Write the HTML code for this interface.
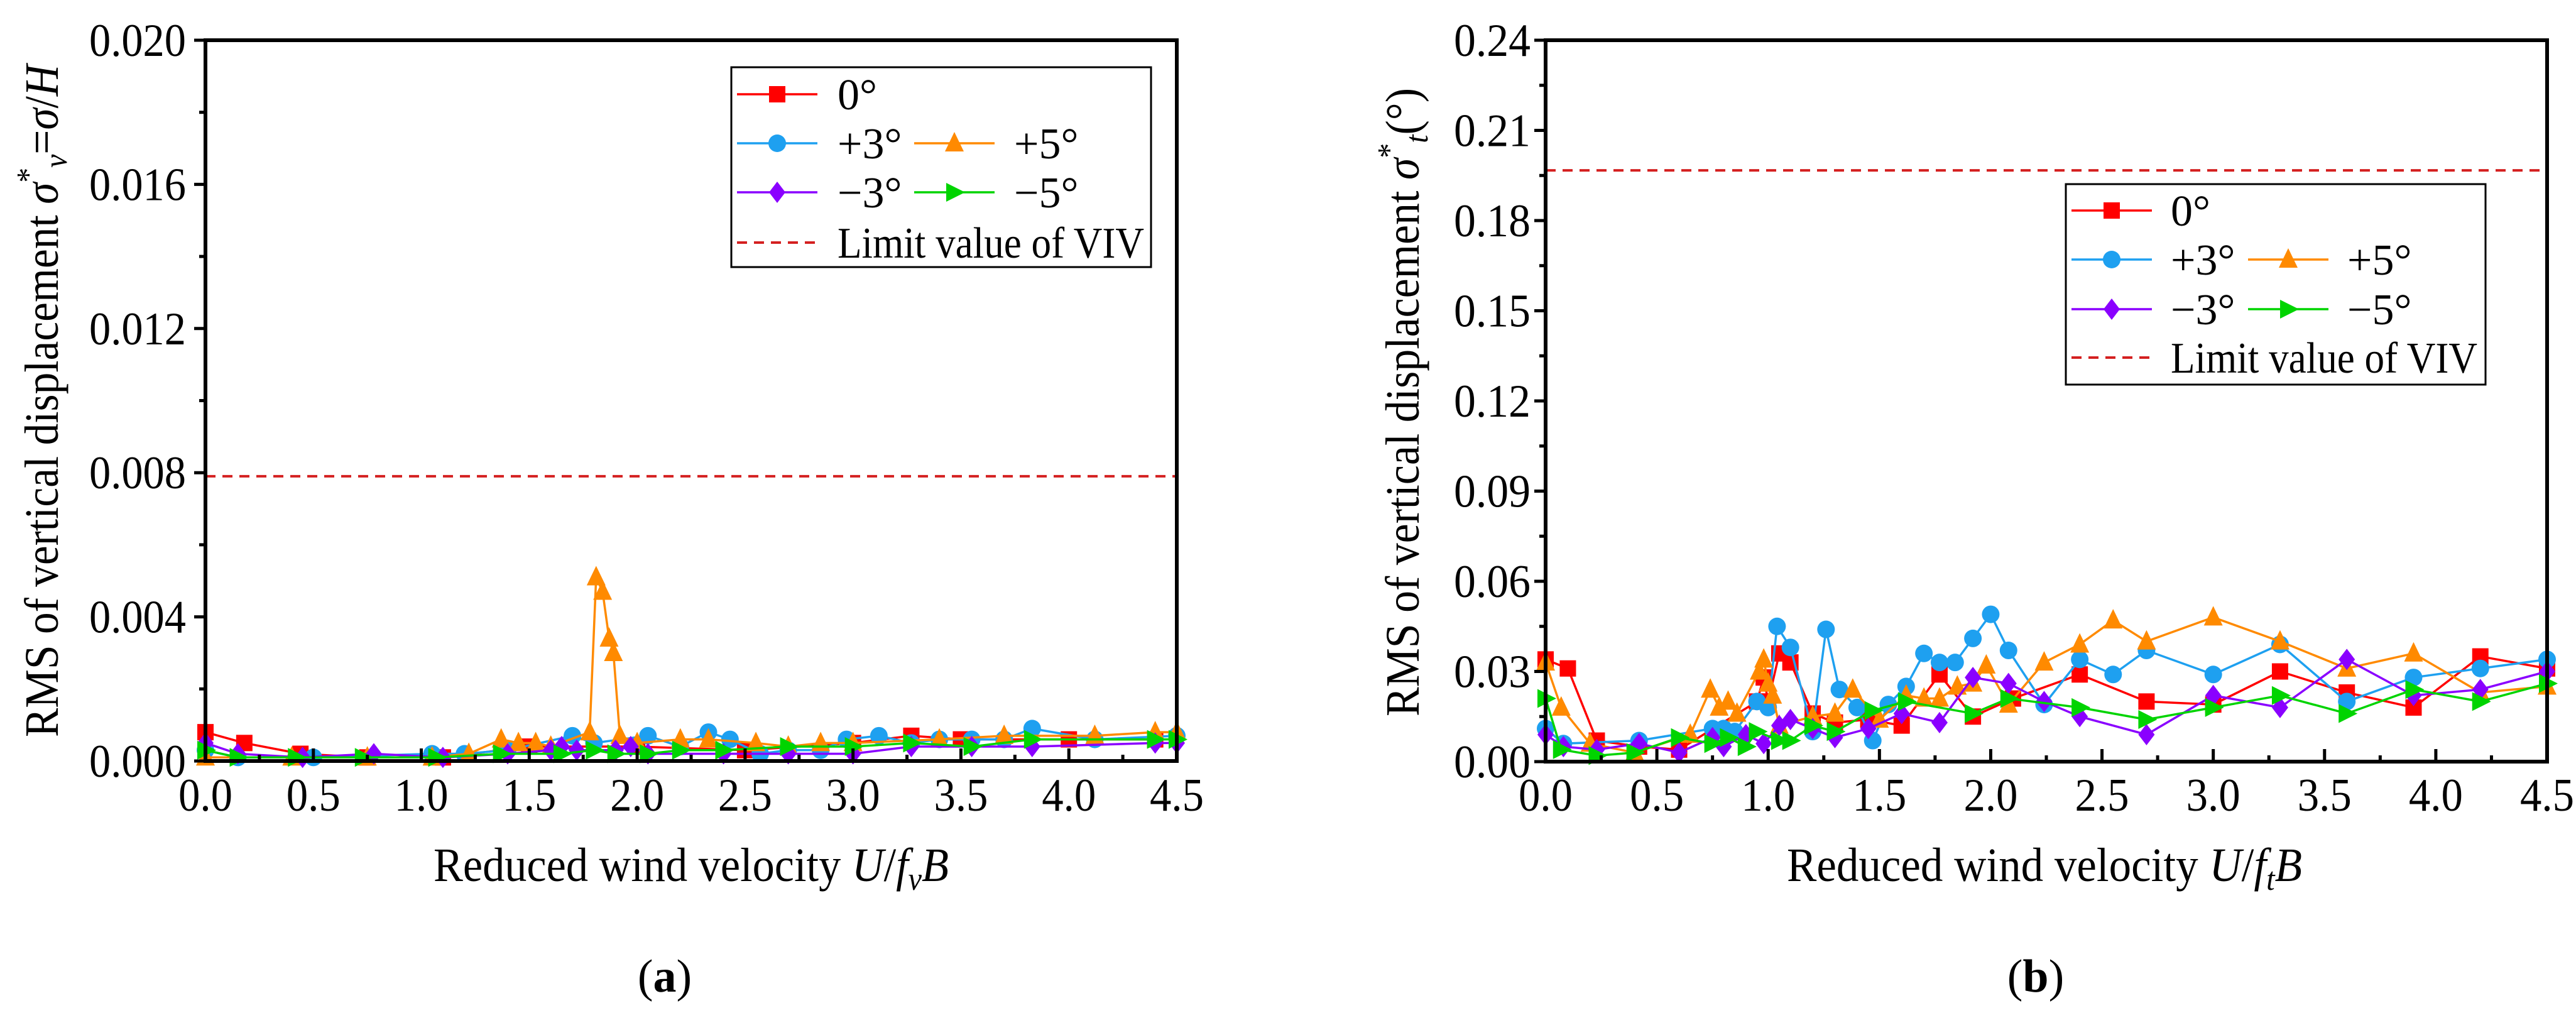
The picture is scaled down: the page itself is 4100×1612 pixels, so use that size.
<!DOCTYPE html>
<html><head><meta charset="utf-8"><title>VIV RMS charts</title>
<style>
html,body{margin:0;padding:0;background:#fff;}
svg{display:block;font-family:"Liberation Serif",serif;}
</style></head>
<body>
<svg id="fig" width="4100" height="1612" viewBox="0 0 4100 1612" xmlns="http://www.w3.org/2000/svg"></svg>
<script>
// ---- Data: panel (a) vertical ----
const a_red_x=[0,0.18,0.44,0.75,1.1,1.5,2.0,2.5,3.0,3.27,3.5,4.0,4.4];
const a_red_y=[0.0008,0.0005,0.0002,0.0001,0.0001,0.0004,0.0004,0.0003,0.0005,0.0007,0.0006,0.0006,0.0006];
const a_blue_x=[0,0.15,0.5,1.05,1.2,1.4,1.7,1.8,2.05,2.2,2.33,2.43,2.57,2.7,2.85,2.97,3.12,3.27,3.4,3.55,3.7,3.83,4.12,4.5];
const a_blue_y=[0.0003,0.0001,0.0001,0.0002,0.0002,0.0003,0.0007,0.0005,0.0007,0.0004,0.0008,0.0006,0.0002,0.0003,0.0003,0.0006,0.0007,0.0005,0.0006,0.0006,0.0006,0.0009,0.0006,0.0007];
const a_orange_x=[0,0.4,0.75,1.05,1.22,1.37,1.45,1.53,1.6,1.78,1.81,1.84,1.87,1.89,1.92,2.0,2.2,2.33,2.55,2.7,2.85,3.0,3.4,3.7,4.12,4.4,4.5];
const a_orange_y=[0.0001,0.0001,0.0001,0.0001,0.0002,0.0006,0.0005,0.0005,0.0004,0.0008,0.0051,0.0047,0.0034,0.003,0.0007,0.0005,0.0006,0.0006,0.0005,0.0004,0.0005,0.0005,0.0006,0.0007,0.0007,0.0008,0.0008];
const a_purple_x=[0,0.15,0.45,0.78,1.1,1.4,1.6,1.65,1.72,1.9,1.97,2.05,2.4,2.7,3.0,3.27,3.55,3.83,4.4,4.5];
const a_purple_y=[0.0005,0.0002,0.0001,0.0002,0.0001,0.0002,0.0003,0.0004,0.0003,0.0003,0.0004,0.0002,0.0002,0.0002,0.0002,0.0004,0.0004,0.0004,0.0005,0.0005];
const a_green_x=[0,0.15,0.42,0.73,1.07,1.37,1.65,1.8,1.9,2.05,2.2,2.4,2.7,3.0,3.27,3.55,3.83,4.4,4.5];
const a_green_y=[0.0003,0.0001,0.0001,0.0001,0.0001,0.0002,0.0002,0.0003,0.0002,0.0002,0.0003,0.0003,0.0004,0.0004,0.0005,0.0004,0.0006,0.0006,0.0006];
const a_limit=0.0079;
const a_yticks=["0.000","0.004","0.008","0.012","0.016","0.020"];
// ---- Data: panel (b) torsional ----
const b_red_x=[0,0.1,0.23,0.42,0.6,0.95,0.98,1.0,1.05,1.1,1.2,1.3,1.45,1.6,1.77,1.92,2.1,2.4,2.7,3.0,3.3,3.6,3.9,4.2,4.5];
const b_red_y=[0.034,0.031,0.007,0.005,0.004,0.02,0.028,0.02,0.036,0.033,0.016,0.013,0.014,0.012,0.029,0.015,0.021,0.029,0.02,0.019,0.03,0.023,0.018,0.035,0.031];
const b_blue_x=[0,0.08,0.42,0.75,0.8,0.85,0.95,1.0,1.04,1.1,1.2,1.26,1.32,1.4,1.47,1.54,1.62,1.7,1.77,1.84,1.92,2.0,2.08,2.24,2.4,2.55,2.7,3.0,3.3,3.6,3.9,4.2,4.5];
const b_blue_y=[0.011,0.006,0.007,0.011,0.011,0.01,0.02,0.018,0.045,0.038,0.01,0.044,0.024,0.018,0.007,0.019,0.025,0.036,0.033,0.033,0.041,0.049,0.037,0.019,0.034,0.029,0.037,0.029,0.039,0.02,0.028,0.031,0.034];
const b_orange_x=[0,0.07,0.2,0.4,0.65,0.74,0.78,0.82,0.86,0.96,0.98,1.0,1.02,1.05,1.2,1.3,1.38,1.5,1.62,1.7,1.77,1.85,1.92,1.98,2.08,2.24,2.4,2.55,2.7,3.0,3.3,3.6,3.9,4.2,4.5];
const b_orange_y=[0.033,0.018,0.006,0.003,0.009,0.024,0.018,0.02,0.016,0.03,0.034,0.026,0.022,0.012,0.015,0.016,0.024,0.014,0.022,0.021,0.021,0.025,0.026,0.032,0.019,0.033,0.039,0.047,0.04,0.048,0.04,0.031,0.036,0.023,0.025];
const b_purple_x=[0,0.08,0.23,0.42,0.6,0.75,0.8,0.9,0.98,1.05,1.1,1.2,1.3,1.45,1.6,1.77,1.92,2.08,2.24,2.4,2.7,3.0,3.3,3.6,3.9,4.2,4.5];
const b_purple_y=[0.009,0.005,0.004,0.006,0.003,0.008,0.005,0.009,0.006,0.012,0.014,0.011,0.008,0.011,0.016,0.013,0.028,0.026,0.02,0.015,0.009,0.022,0.018,0.034,0.022,0.024,0.03];
const b_green_x=[0,0.07,0.23,0.4,0.6,0.75,0.82,0.9,0.95,1.05,1.1,1.2,1.3,1.47,1.62,1.92,2.08,2.4,2.7,3.0,3.3,3.6,3.9,4.2,4.5];
const b_green_y=[0.021,0.004,0.002,0.003,0.008,0.006,0.008,0.005,0.01,0.007,0.007,0.012,0.01,0.017,0.02,0.016,0.021,0.018,0.014,0.018,0.022,0.016,0.024,0.02,0.026];
const b_limit=0.1967;
const b_yticks=["0.00","0.03","0.06","0.09","0.12","0.15","0.18","0.21","0.24"];
const xticks=["0.0","0.5","1.0","1.5","2.0","2.5","3.0","3.5","4.0","4.5"];

const NS="http://www.w3.org/2000/svg";
const svg=document.getElementById('fig');
function mk(tag,attrs,parent){const e=document.createElementNS(NS,tag);for(const k in attrs)e.setAttribute(k,attrs[k]);(parent||svg).appendChild(e);return e;}
const COL={red:"#ff0000",blue:"#1ea0f0",orange:"#ff8a00",purple:"#8a00ff",green:"#00d400"};

function marker(g,type,x,y,c){
  const s=15;let e;
  if(type==='sq') e=mk('rect',{x:x-s+2,y:y-s+2,width:2*s-4,height:2*s-4,fill:c},g);
  else if(type==='ci') e=mk('circle',{cx:x,cy:y,r:s-1,fill:c},g);
  else if(type==='tri') e=mk('polygon',{points:`${x},${y-s-3} ${x+s},${y+s-2} ${x-s},${y+s-2}`,fill:c},g);
  else if(type==='dia') e=mk('polygon',{points:`${x},${y-s-2} ${x+s-2},${y} ${x},${y+s+2} ${x-s+2},${y}`,fill:c},g);
  else e=mk('polygon',{points:`${x+s+2},${y} ${x-s+2},${y-s} ${x-s+2},${y+s}`,fill:c},g);
  
  
}

function panel(p){
  const g=mk('g',{});
  
  
  const X=v=>p.L+(v/4.5)*(p.R-p.L);
  const Y=v=>p.B-(v/p.ymax)*(p.B-p.T);
  // limit line
  const lim=mk('line',{x1:p.L,x2:p.R,y1:Y(p.limit),y2:Y(p.limit),stroke:"#d42020","stroke-width":4,"stroke-dasharray":"16,11"},g);
  
  
  // series
  p.series.forEach(s=>{
    const sg=mk('g',{},g);
    
    
    mk('polyline',{points:s.x.map((v,i)=>X(v)+','+Y(s.y[i])).join(' '),fill:'none',stroke:s.c,'stroke-width':3.5},sg);
    s.x.forEach((v,i)=>marker(sg,s.m,X(v),Y(s.y[i]),s.c));
  });
  // axes box
  const box=mk('rect',{x:p.L,y:p.T,width:p.R-p.L,height:p.B-p.T,fill:'none',stroke:'#000','stroke-width':6},g);
  
  
  // x ticks
  for(let i=0;i<=18;i++){const v=i*0.25,x=X(v),len=i%2?10:20;
    mk('line',{x1:x,x2:x,y1:p.B,y2:p.B-len,stroke:'#000','stroke-width':5},g);}
  xticks.forEach(t=>{const e=mk('text',{x:X(+t),y:1290,'text-anchor':'middle','font-size':74,textLength:86,lengthAdjust:'spacingAndGlyphs'},g);e.textContent=t;
    
    });
  // y ticks
  const n=p.yticks.length-1;
  for(let i=0;i<=2*n;i++){const v=i*p.ymax/(2*n),y=Y(v),len=i%2?10:18;
    mk('line',{x1:p.L,x2:p.L-len,y1:y,y2:y,stroke:'#000','stroke-width':5},g);}
  p.yticks.forEach(t=>{const e=mk('text',{x:p.ylx,y:Y(+t)+25,'text-anchor':'end','font-size':74,textLength:p.ylw,lengthAdjust:'spacingAndGlyphs'},g);e.textContent=t;
    
    });
  // x title
  const xt=mk('text',{x:p.xtx,y:1402,'text-anchor':'middle','font-size':76,textLength:p.xtw,lengthAdjust:'spacingAndGlyphs'},g);
  xt.innerHTML='Reduced wind velocity <tspan font-style="italic">U</tspan>/<tspan font-style="italic">f</tspan><tspan font-style="italic" font-size="52" dy="14">'+p.sub+'</tspan><tspan font-style="italic" dy="-14">B</tspan>';
  
  
  // y title
  const yt=mk('text',{transform:`translate(${p.ytx},${p.yty}) rotate(-90)`,'text-anchor':'middle','font-size':76,textLength:p.ytw,lengthAdjust:'spacingAndGlyphs'},g);
  yt.innerHTML=p.ytitle;
  
  
  // panel label
  const pl=mk('text',{x:p.lab,y:1578,'text-anchor':'middle','font-size':74},g);
  pl.innerHTML='(<tspan font-weight="bold">'+p.letter+'</tspan>)';
  
  
  // legend
  const lg=mk('g',{},g);
  
  
  const q=p.leg;
  mk('rect',{x:q.x,y:q.y,width:q.w,height:q.h,fill:'#fff',stroke:'#000','stroke-width':3},lg);
  const entries=[
    {c:COL.red,m:'sq',t:'0°',lx:q.l1,tx:q.t1,r:0},
    {c:COL.blue,m:'ci',t:'+3°',lx:q.l1,tx:q.t1,r:1},
    {c:COL.orange,m:'tri',t:'+5°',lx:q.l2,tx:q.t2,r:1},
    {c:COL.purple,m:'dia',t:'−3°',lx:q.l1,tx:q.t1,r:2},
    {c:COL.green,m:'arr',t:'−5°',lx:q.l2,tx:q.t2,r:2}];
  entries.forEach(en=>{
    const eg=mk('g',{},lg);
    
    
    const y=q.rows[en.r];
    mk('line',{x1:en.lx,x2:en.lx+128,y1:y,y2:y,stroke:en.c,'stroke-width':3.5},eg);
    marker(eg,en.m,en.lx+64,y,en.c);
    const t=mk('text',{x:en.tx,y:y+24,'font-size':70},eg);t.textContent=en.t;
  });
  const eg=mk('g',{},lg);
  
  
  mk('line',{x1:q.l1,x2:q.l1+128,y1:q.rows[3],y2:q.rows[3],stroke:'#d42020','stroke-width':4,'stroke-dasharray':'16,11'},eg);
  const lt=mk('text',{x:q.t1,y:q.rows[3]+24,'font-size':70,textLength:488,lengthAdjust:'spacingAndGlyphs'},eg);lt.textContent='Limit value of VIV';
}

panel({id:'panel-a-vertical',L:327,R:1873,T:64,B:1211,ymax:0.02,limit:a_limit,yticks:a_yticks,ylx:296,ylw:154,
  xtx:1100,xtw:820,sub:'v',ytx:92,yty:638,ytw:1070,lab:1058,letter:'a',
  ytitle:'RMS of vertical displacement <tspan font-style="italic">σ</tspan><tspan font-size="52" dy="-30">*</tspan><tspan font-style="italic" font-size="52" dy="44">v</tspan><tspan dy="-14">=</tspan><tspan font-style="italic">σ</tspan>/<tspan font-style="italic">H</tspan>',
  leg:{x:1164,y:107,w:668,h:318,rows:[150,228,306,386],l1:1173,t1:1333,l2:1455,t2:1614},
  series:[
    {name:'0deg',x:a_red_x,y:a_red_y,c:COL.red,m:'sq'},
    {name:'plus3deg',x:a_blue_x,y:a_blue_y,c:COL.blue,m:'ci'},
    {name:'plus5deg',x:a_orange_x,y:a_orange_y,c:COL.orange,m:'tri'},
    {name:'minus3deg',x:a_purple_x,y:a_purple_y,c:COL.purple,m:'dia'},
    {name:'minus5deg',x:a_green_x,y:a_green_y,c:COL.green,m:'arr'}]});

panel({id:'panel-b-torsional',L:2460,R:4054,T:64,B:1212,ymax:0.24,limit:b_limit,yticks:b_yticks,ylx:2436,ylw:122,
  xtx:3254,xtw:820,sub:'t',ytx:2258,yty:640,ytw:1000,lab:3240,letter:'b',
  ytitle:'RMS of vertical displacement <tspan font-style="italic">σ</tspan><tspan font-size="52" dy="-30">*</tspan><tspan font-style="italic" font-size="52" dy="44">t</tspan><tspan dy="-14">(°)</tspan>',
  leg:{x:3288,y:293,w:668,h:319,rows:[335,413,492,569],l1:3297,t1:3455,l2:3578,t2:3736},
  series:[
    {name:'0deg',x:b_red_x,y:b_red_y,c:COL.red,m:'sq'},
    {name:'plus3deg',x:b_blue_x,y:b_blue_y,c:COL.blue,m:'ci'},
    {name:'plus5deg',x:b_orange_x,y:b_orange_y,c:COL.orange,m:'tri'},
    {name:'minus3deg',x:b_purple_x,y:b_purple_y,c:COL.purple,m:'dia'},
    {name:'minus5deg',x:b_green_x,y:b_green_y,c:COL.green,m:'arr'}]});
</script>
</body></html>
